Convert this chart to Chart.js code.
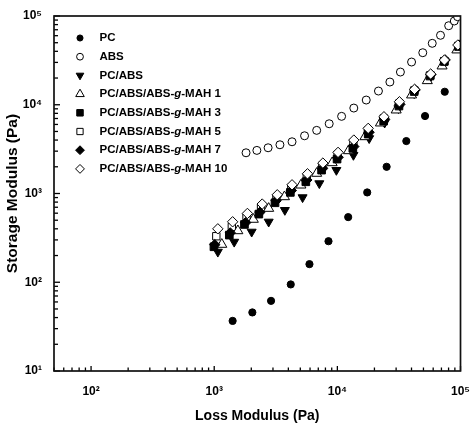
<!DOCTYPE html>
<html>
<head>
<meta charset="utf-8">
<script src="https://cdn.jsdelivr.net/npm/chart.js@4.4.1/dist/chart.umd.min.js"></script>
<style>
html,body{margin:0;padding:0;background:#fff;}
#wrap{width:475px;height:427px;}
</style>
</head>
<body>
<div id="wrap"><canvas id="c" width="475" height="427"></canvas></div>
<script>
// ---- Data ----
const seriesNames = ["PC", "ABS", "PC/ABS", "PC/ABS/ABS-g-MAH 1", "PC/ABS/ABS-g-MAH 3", "PC/ABS/ABS-g-MAH 5", "PC/ABS/ABS-g-MAH 7", "PC/ABS/ABS-g-MAH 10"];

const pcX = [1411, 2040, 2894, 4183, 5935, 8472, 12246, 17474, 25119, 36308, 51523, 74473];
const pcY = [36.7, 45.7, 61.7, 94.5, 160, 290, 542, 1028, 2000, 3896, 7460, 14016];

const absX = [1813, 2220, 2739, 3417, 4285, 5415, 6792, 8584, 10825, 13601, 17154, 21557, 26697, 32509, 40045, 49387, 58940, 68802, 80168, 89041, 94624];
const absY = [2876, 3060, 3275, 3540, 3827, 4472, 5145, 6107, 7400, 9180, 11298, 14275, 18030, 23370, 30295, 38575, 49225, 60590, 77710, 87830, 98200];

const pcAbsX = [1070, 1453, 2014, 2769, 3746, 5219, 7138, 9817, 13502, 18130, 24210, 31330, 42073, 57220, 74060, 96380];
const pcAbsY = [220, 285, 370, 480, 650, 904, 1300, 1835, 2710, 4181, 6268, 9110, 13440, 20690, 30530, 45070];

const mah1X = [1152, 1556, 2078, 2769, 3719, 5058, 6792, 9071, 12315, 16749, 22367, 30040, 40045, 53750, 70860, 93420];
const mah1Y = [267, 380, 511, 679, 918, 1243, 1685, 2219, 3029, 4357, 6219, 8713, 12866, 18650, 27310, 41370];

const mah3X = [995, 1326, 1760, 2304, 3116, 4152, 5546, 7447, 9945, 13352, 17798, 23768, 31623, 42073, 56494, 73790, 96380];
const mah3Y = [251, 340, 448, 586, 786, 1029, 1355, 1835, 2442, 3225, 4674, 6550, 9667, 14090, 21060, 30690, 45300];

const mah5X = [1040, 1390, 1830, 2400, 3200, 4230, 5650, 7550, 10050, 13500, 17700, 23800, 31800, 42200, 57000, 74000, 96000];
const mah5Y = [330, 420, 540, 690, 890, 1160, 1540, 2050, 2720, 3700, 5100, 7000, 10300, 14500, 21500, 31000, 46000];

const mah7X = [1010, 1350, 1800, 2350, 3180, 4230, 5650, 7600, 10150, 13600, 18100, 24200, 32200, 42800, 57500, 75000, 98000];
const mah7Y = [265, 360, 470, 615, 830, 1080, 1420, 1920, 2560, 3380, 4900, 6850, 10100, 14700, 21900, 32000, 47000];

const mah10X = [1070, 1411, 1860, 2453, 3251, 4285, 5721, 7626, 10130, 13601, 17798, 23900, 31915, 42315, 57220, 74060, 95150];
const mah10Y = [400, 480, 596, 760, 967, 1253, 1668, 2201, 2906, 4000, 5418, 7322, 10810, 14915, 22190, 31910, 47110];

const xTitle = "Loss Modulus (Pa)";
const yTitle = "Storage Modulus (Pa)";
const supDigits = {"0":"\u2070","1":"\u00B9","2":"\u00B2","3":"\u00B3","4":"\u2074","5":"\u2075"};

// ---- Styles ----
const styles = [
  {pointStyle:'circle',   radius:3.6, rotation:0,   fill:'#000', order:7},
  {pointStyle:'circle',   radius:4,   rotation:0,   fill:'#fff', order:6},
  {pointStyle:'triangle', radius:5.2, rotation:180, fill:'#000', order:5},
  {pointStyle:'triangle', radius:5.8, rotation:0,   fill:'#fff', order:3},
  {pointStyle:'rect',     radius:5.4, rotation:0,   fill:'#000', order:2},
  {pointStyle:'rect',     radius:5.2, rotation:0,   fill:'#fff', order:4},
  {pointStyle:'rectRot',  radius:5.2, rotation:0,   fill:'#000', order:1},
  {pointStyle:'rectRot',  radius:5.2, rotation:0,   fill:'#fff', order:0}
];
const xs = [pcX, absX, pcAbsX, mah1X, mah3X, mah5X, mah7X, mah10X];
const ys = [pcY, absY, pcAbsY, mah1Y, mah3Y, mah5Y, mah7Y, mah10Y];

const datasets = seriesNames.map((name, i) => ({
  label: name,
  data: xs[i].map((x, j) => ({x: x, y: ys[i][j]})),
  pointStyle: styles[i].pointStyle,
  pointRadius: styles[i].radius,
  pointRotation: styles[i].rotation,
  pointBackgroundColor: styles[i].fill,
  pointBorderColor: '#000',
  pointBorderWidth: 1,
  showLine: false,
  order: styles[i].order
}));

function isPow10(v) {
  const l = Math.log10(v);
  return Math.abs(l - Math.round(l)) < 1e-9;
}
function powLabel(v) {
  if (!isPow10(v)) return '';
  const e = String(Math.round(Math.log10(v)));
  return '10' + e.split('').map(d => supDigits[d]).join('');
}

const FONT = "'Liberation Sans', Arial, sans-serif";

function tickValues(min, max) {
  const out = [];
  for (let e = Math.floor(Math.log10(min)); e <= Math.ceil(Math.log10(max)); e++) {
    for (let k = 1; k <= 9; k++) {
      const v = k * Math.pow(10, e);
      if (v >= min - 1e-9 && v <= max + 1e-9) out.push(v);
    }
  }
  return out;
}

const framePlugin = {
  id: 'frame',
  afterDraw(chart) {
    const ctx = chart.ctx;
    const a = chart.chartArea;
    ctx.save();
    ctx.strokeStyle = '#000';
    ctx.lineWidth = 1.3;
    const sx = chart.scales.x, sy = chart.scales.y;
    tickValues(sx.min, sx.max).forEach(v => {
      const px = sx.getPixelForValue(v);
      const len = isPow10(v) ? 5 : 3.5;
      ctx.beginPath(); ctx.moveTo(px, a.bottom); ctx.lineTo(px, a.bottom - len); ctx.stroke();
    });
    tickValues(sy.min, sy.max).forEach(v => {
      const py = sy.getPixelForValue(v);
      const len = isPow10(v) ? 6 : 4;
      ctx.beginPath(); ctx.moveTo(a.left, py); ctx.lineTo(a.left + len, py); ctx.stroke();
    });
    ctx.lineWidth = 1.7;
    ctx.strokeStyle = '#111';
    ctx.strokeRect(a.left, a.top, a.right - a.left, a.bottom - a.top);

    // legend
    const lx = 80, tx = 99.5, ly0 = 38, step = 18.7;
    seriesNames.forEach((name, i) => {
      const y = ly0 + i * step;
      const s = styles[i];
      ctx.fillStyle = s.fill;
      ctx.strokeStyle = '#000';
      ctx.lineWidth = 1;
      Chart.helpers.drawPoint(ctx, {pointStyle: s.pointStyle, radius: s.radius * 0.85, rotation: s.rotation, borderWidth: 1}, lx, y);
      ctx.fillStyle = '#000';
      ctx.textBaseline = 'middle';
      ctx.textAlign = 'left';
      const m = name.match(/^(.*-)(g)(-.*)$/);
      if (m) {
        let x = tx;
        ctx.font = "bold 11.5px " + FONT;
        ctx.fillText(m[1], x, y); x += ctx.measureText(m[1]).width;
        ctx.font = "italic bold 11.5px " + FONT;
        ctx.fillText(m[2], x, y); x += ctx.measureText(m[2]).width;
        ctx.font = "bold 11.5px " + FONT;
        ctx.fillText(m[3], x, y);
      } else {
        ctx.font = "bold 11.5px " + FONT;
        ctx.fillText(name, tx, y);
      }
    });
    ctx.restore();
  }
};

new Chart(document.getElementById('c'), {
  type: 'scatter',
  data: {datasets: datasets},
  plugins: [framePlugin],
  options: {
    responsive: false,
    devicePixelRatio: 1,
    animation: false,
    layout: {padding: {left: 0, right: 7, top: 16, bottom: 0}},
    plugins: {legend: {display: false}, tooltip: {enabled: false}},
    scales: {
      x: {
        type: 'logarithmic',
        min: 50, max: 100000,
        grid: {display: false},
        border: {display: false},
        afterFit(s) { s.height = 56; },
        ticks: {
          autoSkip: false, maxRotation: 0, minRotation: 0, padding: 5,
          color: '#000',
          font: {family: FONT, size: 12, weight: 'bold'},
          callback: (v) => powLabel(v)
        },
        title: {display: true, text: xTitle, color: '#000',
          font: {family: FONT, size: 14, weight: 'bold'}, padding: {top: 0, bottom: 2}}
      },
      y: {
        type: 'logarithmic',
        min: 10, max: 100000,
        grid: {display: false},
        border: {display: false},
        afterFit(s) { s.width = 54; },
        ticks: {
          autoSkip: false, padding: 4,
          color: '#000',
          font: {family: FONT, size: 12, weight: 'bold'},
          callback: (v) => powLabel(v)
        },
        title: {display: true, text: yTitle, color: '#000',
          font: {family: FONT, size: 15.5, weight: 'bold'}, padding: {top: 3.5, bottom: 0}}
      }
    }
  }
});
</script>
</body>
</html>
